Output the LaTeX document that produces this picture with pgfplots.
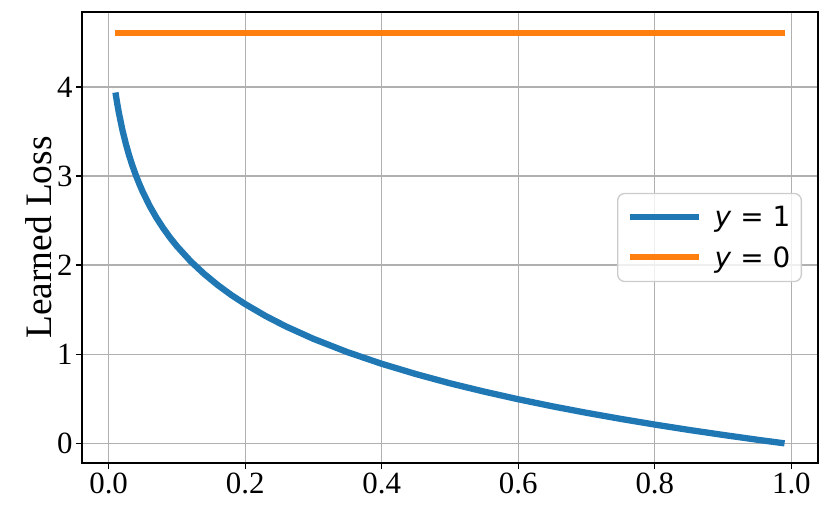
\documentclass[border=0pt]{standalone}
\usepackage{fontspec}
\setmainfont{Liberation Serif}
\newfontfamily\dejavu{DejaVu Sans}
\usepackage{pgfplots}
\pgfplotsset{compat=1.18}
\definecolor{mplblue}{HTML}{1F77B4}
\definecolor{mplorange}{HTML}{FF7F0E}
\begin{document}
\begin{tikzpicture}
\begin{axis}[
  scale only axis,
  width=736bp, height=451bp,
  xmin=-0.039, xmax=1.039,
  ymin=-0.22, ymax=4.84,
  xtick={0,0.2,0.4,0.6,0.8,1.0},
  ytick={0,1,2,3,4},
  xticklabel style={/pgf/number format/fixed,/pgf/number format/fixed zerofill,/pgf/number format/precision=1},
  /pgf/number format/assume math mode=true,
  tick label style={font=\fontsize{31}{36}\selectfont},
  ylabel={\fontsize{37.5}{42}\selectfont Learned Loss},
  ylabel style={yshift=-2bp},
  grid=major,
  grid style={color=black!31, line width=1.3bp},
  axis line style={line width=1.3bp},
  tick style={line width=1.3bp, black},
  major tick length=6bp,
  tick align=outside,
  xtick pos=bottom, ytick pos=left,
  legend style={at={(rel axis cs:1,0.5)}, anchor=east, xshift=-16bp,
    draw=black!20, line width=1.3bp, rounded corners=7bp, fill=white, fill opacity=0.8, text opacity=1,
    font=\dejavu\fontsize{28}{34}\selectfont, row sep=14bp, inner xsep=9bp, inner ysep=11bp},
  legend cell align=left,
  legend image code/.code={\draw[#1, line width=6bp] (0bp,0bp) -- (69bp,0bp);},
]
\addplot[mplblue, line width=6.3bp] coordinates {
(0.01,3.937) (0.0125,3.817) (0.015,3.709) (0.02,3.523) (0.025,3.367) (0.03,3.231)
(0.035,3.112) (0.04,3.006) (0.045,2.910) (0.05,2.822) (0.06,2.666) (0.07,2.532)
(0.08,2.414) (0.09,2.308) (0.10,2.212) (0.12,2.044) (0.14,1.901) (0.16,1.775)
(0.18,1.663) (0.20,1.563) (0.23,1.429) (0.26,1.311) (0.30,1.173) (0.35,1.023)
(0.40,0.893) (0.45,0.778) (0.50,0.674) (0.55,0.581) (0.60,0.495) (0.65,0.416)
(0.70,0.343) (0.75,0.275) (0.80,0.211) (0.85,0.151) (0.90,0.095) (0.95,0.041)
(0.99,0.0005)
};
\addlegendentry{\hspace{11bp}\textit{y} = 1\hspace{2bp}}
\addplot[mplorange, line width=6.3bp] coordinates {(0.01,4.605) (0.99,4.605)};
\addlegendentry{\hspace{11bp}\textit{y} = 0\hspace{2bp}}
\end{axis}
\path (current axis.south west) ++(-82bp,-54bp) (current axis.north east) ++(12bp,12bp);
\end{tikzpicture}
\end{document}
